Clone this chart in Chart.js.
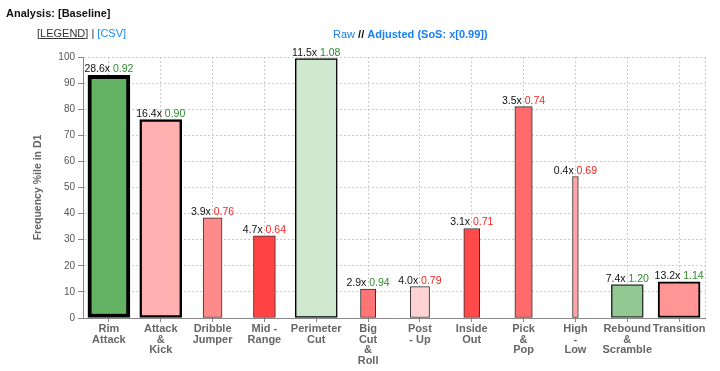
<!DOCTYPE html>
<html>
<head>
<meta charset="utf-8">
<script src="https://cdn.jsdelivr.net/npm/chart.js@4.4.1/dist/chart.umd.min.js"></script>
<style>
  body { margin: 0; background: #fff; font-family: "Liberation Sans", Arial, sans-serif; }
  #wrap { position: relative; width: 720px; height: 371px; }
  #chart-box { position: absolute; left: 0; top: 0; width: 720px; height: 371px; }
  .hdr { position: absolute; font-size: 11px; line-height: 13px; white-space: nowrap; }
</style>
</head>
<body>
<div id="wrap">
  <div id="chart-box"><canvas id="bar-chart"></canvas></div>
  <div class="hdr" style="left:6px; top:7px; font-weight:bold; color:#111;">Analysis: [Baseline]</div>
  <div class="hdr" style="left:37px; top:27px; color:#333;">[<u>LEGEND</u>] | <span style="color:#1a8cff">[CSV]</span></div>
  <div class="hdr" style="left:333px; top:28px;"><span style="color:#1a7ff0">Raw</span> <b style="color:#111">//</b> <b style="color:#1a7ff0">Adjusted (SoS: x[0.99])</b></div>
</div>

<script>
var categories = [
  ["Rim", "Attack"], ["Attack", "&", "Kick"], ["Dribble", "Jumper"], ["Mid -", "Range"],
  ["Perimeter", "Cut"], ["Big", "Cut", "&", "Roll"], ["Post", "- Up"], ["Inside", "Out"],
  ["Pick", "&", "Pop"], ["High", "-", "Low"], ["Rebound", "&", "Scramble"], ["Transition"]
];
var percentiles = [93, 76, 38.4, 31.5, 99.4, 11.1, 12, 34.3, 81, 54.2, 12.8, 13.9];
var multipliers = [28.6, 16.4, 3.9, 4.7, 11.5, 2.9, 4.0, 3.1, 3.5, 0.4, 7.4, 13.2];
var adjusted = [0.92, 0.90, 0.76, 0.64, 1.08, 0.94, 0.79, 0.71, 0.74, 0.69, 1.20, 1.14];

var fillColors = ["#64b264", "#ffb0b0", "#ff8a8a", "#ff4242", "#d0e8d0", "#ff7575",
                  "#ffd3d3", "#ff4a4a", "#ff6b6b", "#ffa5a5", "#92c992", "#ff9595"];
var edgeColors = ["#000", "#000", "#333", "#333", "#000", "#333",
                  "#333", "#333", "#333", "#333", "#333", "#000"];
var edgeWidths = [4, 2.5, 1, 1, 1.5, 1, 1, 1, 1, 1, 1.6, 2];

var fontFamily = '"Liberation Sans", Arial, sans-serif';

// one dataset per bar so every bar can get its own thickness
var datasets = categories.map(function (c, i) {
  return {
    data: percentiles.map(function (v, j) { return j === i ? v : null; }),
    backgroundColor: fillColors[i],
    borderColor: edgeColors[i],
    borderWidth: edgeWidths[i],
    borderSkipped: false,
    grouped: false,
    barThickness: Math.min(42, 4.3 + 3.75 * multipliers[i])
  };
});

var barLabels = {
  id: "barLabels",
  beforeDatasetsDraw: function (chart) {
    var a = chart.chartArea, ctx = chart.ctx;
    ctx.save();
    ctx.strokeStyle = "#ccc";
    ctx.lineWidth = 1;
    ctx.setLineDash([2, 2]);
    ctx.beginPath();
    ctx.moveTo(a.right + 0.5, a.top);
    ctx.lineTo(a.right + 0.5, a.bottom);
    ctx.stroke();
    ctx.restore();
  },
  afterDatasetsDraw: function (chart) {
    var ctx = chart.ctx;
    ctx.save();
    ctx.font = "10.5px " + fontFamily;
    ctx.textBaseline = "alphabetic";
    chart.data.datasets.forEach(function (ds, i) {
      var bar = chart.getDatasetMeta(i).data[i];
      var first = multipliers[i].toFixed(1) + "x ";
      var second = adjusted[i].toFixed(2);
      var w1 = ctx.measureText(first).width, w2 = ctx.measureText(second).width;
      var x0 = bar.x - (w1 + w2) / 2, y = bar.y - 3;
      ctx.fillStyle = "#111";
      ctx.fillText(first, x0, y);
      ctx.fillStyle = adjusted[i] >= 0.85 ? "#2e8b2e" : "#ff2020";
      ctx.fillText(second, x0 + w1, y);
    });
    ctx.restore();
  }
};

var chart1 = new Chart(document.getElementById("bar-chart"), {
  type: "bar",
  data: { labels: categories, datasets: datasets },
  options: {
    responsive: true,
    maintainAspectRatio: false,
    animation: false,
    layout: { padding: { top: 57, right: 15, left: 0, bottom: 0 } },
    plugins: { legend: { display: false }, tooltip: { enabled: false } },
    scales: {
      x: {
        offset: true,
        grid: { offset: false, color: "#ccc", tickColor: "#888", tickLength: 4, tickBorderDash: [] },
        border: { color: "#888", dash: [2, 2] },
        ticks: {
          color: "#666", autoSkip: false, maxRotation: 0, padding: 2,
          font: { family: fontFamily, size: 11, weight: "bold", lineHeight: 0.95 }
        },
        afterFit: function (s) { s.height = 53; }
      },
      y: {
        min: 0, max: 100,
        grid: { color: "#ccc", tickColor: "#888", tickLength: 5, tickBorderDash: [] },
        border: { color: "#888", dash: [2, 2] },
        ticks: { stepSize: 10, color: "#555", padding: 3, font: { family: fontFamily, size: 10 } },
        title: {
          display: true, text: "Frequency %ile in D1", color: "#666",
          font: { family: fontFamily, size: 10.5, weight: "bold" },
          padding: { top: 32, bottom: 0 }
        },
        afterFit: function (s) { s.width = 83; }
      }
    }
  },
  plugins: [barLabels]
});
</script>
</body>
</html>
